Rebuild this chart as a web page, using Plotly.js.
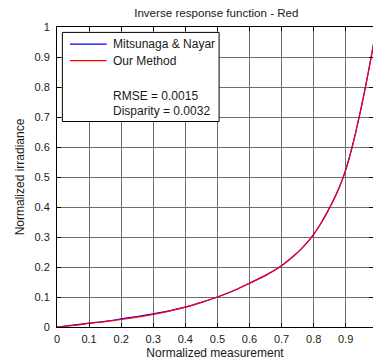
<!DOCTYPE html>
<html>
<head>
<meta charset="utf-8">
<script src="https://cdn.plot.ly/plotly-3.0.1.min.js"></script>
<style>html,body{margin:0;padding:0;background:#fff;}#chart{width:373px;height:364px;}</style>
</head>
<body>
<div id="chart"></div>
<script>
// Normalized measurement samples
var measurement = [0, 0.05, 0.1, 0.15, 0.2, 0.25, 0.3, 0.35, 0.4, 0.45, 0.5, 0.55, 0.6, 0.65, 0.7, 0.72, 0.74, 0.76, 0.78, 0.8, 0.82, 0.84, 0.86, 0.88, 0.89, 0.9, 0.91, 0.92, 0.93, 0.94, 0.95, 0.96, 0.97, 0.98, 0.99];
// Mitsunaga & Nayar inverse response
var mitsunaga = [0, 0.006, 0.013, 0.019, 0.027, 0.035, 0.044, 0.054, 0.066, 0.082, 0.100, 0.121, 0.146, 0.172, 0.204, 0.221, 0.239, 0.259, 0.282, 0.309, 0.341, 0.378, 0.419, 0.466, 0.493, 0.524, 0.560, 0.600, 0.644, 0.691, 0.740, 0.792, 0.847, 0.904, 0.963];
// Our method inverse response
var ourMethod = [0, 0.005, 0.012, 0.018, 0.025, 0.033, 0.042, 0.053, 0.066, 0.082, 0.100, 0.121, 0.146, 0.172, 0.204, 0.221, 0.239, 0.259, 0.282, 0.309, 0.341, 0.378, 0.419, 0.466, 0.493, 0.524, 0.560, 0.600, 0.644, 0.691, 0.740, 0.792, 0.847, 0.904, 0.963];
var seriesNames = ["Mitsunaga & Nayar", "Our Method"];
var seriesColors = ["#0000ff", "#ff0000"];
var statsLabels = ["RMSE = 0.0015", "Disparity = 0.0032"];
var xTicks = [0, 0.1, 0.2, 0.3, 0.4, 0.5, 0.6, 0.7, 0.8, 0.9];
var xTickText = ["0", "0.1", "0.2", "0.3", "0.4", "0.5", "0.6", "0.7", "0.8", "0.9"];
var yTicks = [0, 0.1, 0.2, 0.3, 0.4, 0.5, 0.6, 0.7, 0.8, 0.9, 1];
var yTickText = ["0", "0.1", "0.2", "0.3", "0.4", "0.5", "0.6", "0.7", "0.8", "0.9", "1"];

var font = "Liberation Sans, Arial, Helvetica, sans-serif";
var txt = "#1a1a1a";
var traces = [
  {x: measurement, y: mitsunaga, name: seriesNames[0], mode: "lines", line: {color: seriesColors[0], width: 1.2, shape: "spline", smoothing: 0.6}},
  {x: measurement, y: ourMethod, name: seriesNames[1], mode: "lines", line: {color: seriesColors[1], width: 1.2, shape: "spline", smoothing: 0.6}}
];

// Legend box drawn in paper coordinates
var legendRows = [0.943, 0.888];
var statsRows = [0.771, 0.721];
var shapes = [
  {type: "rect", xref: "paper", yref: "paper", x0: 0.017, x1: 0.513, y0: 0.685, y1: 0.982,
   line: {color: "#000", width: 1}, fillcolor: "#fff", layer: "above"}
];
var annotations = [];
seriesNames.forEach(function (n, i) {
  shapes.push({type: "line", xref: "paper", yref: "paper", x0: 0.041, x1: 0.157, y0: legendRows[i], y1: legendRows[i],
    line: {color: seriesColors[i], width: 1.2}, layer: "above"});
  annotations.push({xref: "paper", yref: "paper", x: 0.170, y: legendRows[i], xanchor: "left", yanchor: "middle",
    text: n, showarrow: false, font: {family: font, size: 12, color: txt}});
});
statsLabels.forEach(function (s, i) {
  annotations.push({xref: "paper", yref: "paper", x: 0.170, y: statsRows[i], xanchor: "left", yanchor: "middle",
    text: s, showarrow: false, font: {family: font, size: 12, color: txt}});
});

var axisCommon = {
  showline: true, linecolor: "#000", linewidth: 1, mirror: "ticks",
  ticks: "inside", ticklen: 4, tickcolor: "#000", tickwidth: 1,
  showgrid: true, gridcolor: "#6e6e6e", gridwidth: 1, zeroline: false,
  tickfont: {family: font, size: 11, color: txt}
};

var layout = {
  width: 373, height: 364,
  margin: {l: 57, r: 0, t: 27, b: 37},
  paper_bgcolor: "#fff", plot_bgcolor: "#fff",
  font: {family: font, size: 11, color: txt},
  title: {text: "Inverse response function - Red", font: {family: font, size: 11.6, color: txt}, x: 0.58, xanchor: "center", yref: "container", y: 0.964, yanchor: "middle"},
  xaxis: Object.assign({}, axisCommon, {range: [0, 0.985], tickvals: xTicks, ticktext: xTickText, ticklabelstandoff: 2,
    title: {text: "Normalized measurement", font: {family: font, size: 12, color: txt}, standoff: 4}}),
  yaxis: Object.assign({}, axisCommon, {range: [0, 1], tickvals: yTicks, ticktext: yTickText, ticklabelstandoff: 4,
    title: {text: "Normalized irradiance", font: {family: font, size: 12, color: txt}, standoff: 7}}),
  showlegend: false,
  shapes: shapes,
  annotations: annotations
};

Plotly.newPlot("chart", traces, layout, {displayModeBar: false, staticPlot: true});
</script>
</body>
</html>
